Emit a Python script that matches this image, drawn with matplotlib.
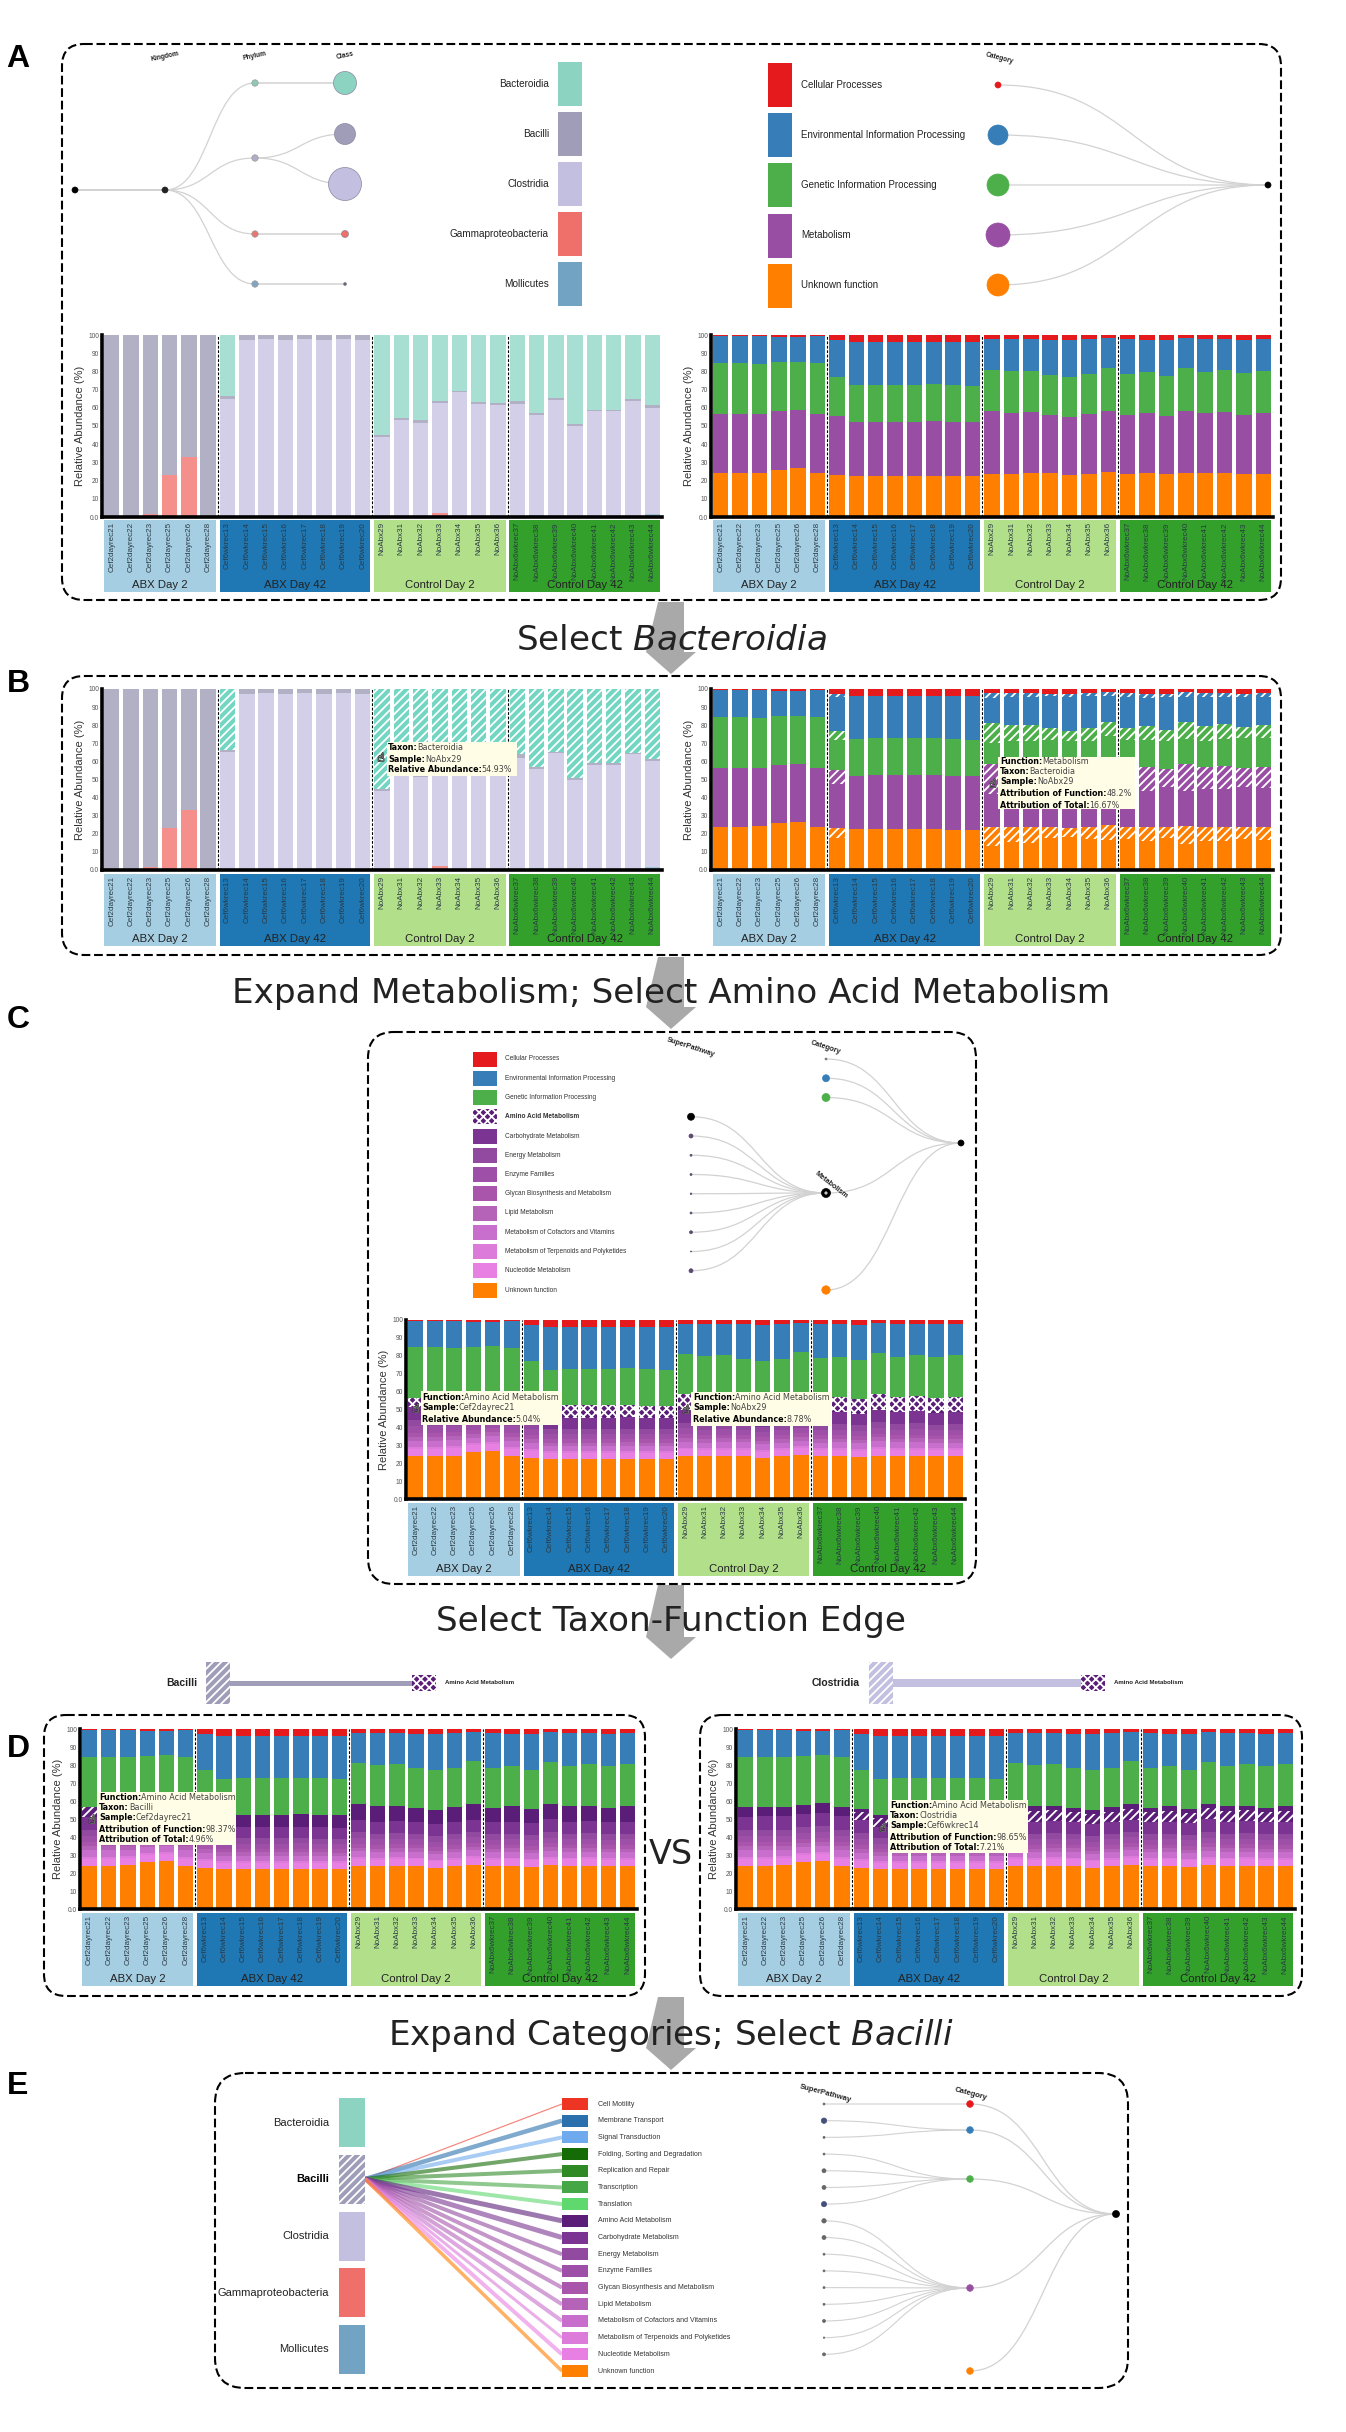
import numpy as np
import matplotlib
matplotlib.use('Agg')
import matplotlib.pyplot as plt
import matplotlib.patheffects as pe
from matplotlib.patches import FancyBboxPatch, PathPatch, Rectangle, Ellipse
from matplotlib.path import Path

plt.rcParams['font.family'] = ['Liberation Sans', 'DejaVu Sans']
plt.rcParams['hatch.linewidth'] = 1.3
plt.rcParams['mathtext.fontset'] = 'dejavusans'

W, H = 1346, 2432
STRIPES = '////'
CHECKS = 'xxxx'

# ---- samples
samples = ['Cef2dayrec21', 'Cef2dayrec22', 'Cef2dayrec23', 'Cef2dayrec25', 'Cef2dayrec26', 'Cef2dayrec28',
           'Cef6wkrec13', 'Cef6wkrec14', 'Cef6wkrec15', 'Cef6wkrec16', 'Cef6wkrec17', 'Cef6wkrec18', 'Cef6wkrec19', 'Cef6wkrec20',
           'NoAbx29', 'NoAbx31', 'NoAbx32', 'NoAbx33', 'NoAbx34', 'NoAbx35', 'NoAbx36',
           'NoAbx6wkrec37', 'NoAbx6wkrec38', 'NoAbx6wkrec39', 'NoAbx6wkrec40', 'NoAbx6wkrec41', 'NoAbx6wkrec42', 'NoAbx6wkrec43', 'NoAbx6wkrec44']
groups = ['ABX Day 2', 'ABX Day 42', 'Control Day 2', 'Control Day 42']
group_sizes = [6, 8, 7, 8]
group_colors = ['#a6cee3', '#1f78b4', '#b2df8a', '#33a02c']

# ---- taxa (% per sample)
mollicutes = [0] * 14 + [0, 0, 0, 0, 0, .7, .5, .8, 1.2, .5, 0, 0, 0, 0, 1.8]
gamma = [0, .2, 1.5, 23, 33, .2] + [0] * 8 + [0, 0, .4, 2, 0, 0, 0] + [0] * 8
clostridia = [0] * 6 + [65, 97, 98, 97, 98, 97.3, 98, 97,
                        43.8, 53.5, 51.1, 60.7, 68.7, 61.3, 61.2,
                        61.2, 54.8, 64, 50, 58.2, 58, 64, 58.2]
bacilli = [100, 99.8, 98.5, 77, 67, 99.8, 1.5, 3, 2, 3, 2, 2.7, 2, 3,
           1.2, .7, 1.8, 1.1, .8, 1, .8, 2, 1, .7, 1, .8, 1, .7, 1.5]
bacteroidia = [0] * 6 + [33.5] + [0] * 7 + [54.93, 45.8, 46.7, 36.2, 30.5, 37, 37.5,
                                            36, 43, 34.8, 49, 41, 41, 35.3, 38.5]

# ---- functions: top of every stacked category (% per sample)
unknown_top = [24, 24, 24.3, 26, 26.7, 24, 23, 22.4, 22.4, 22.4, 22.4, 22.4, 22.3, 22.3,
               23.9, 23.8, 24, 24, 23, 23.8, 24.7, 23.8, 24, 23.5, 24.3, 24, 24, 23.8, 23.8]
metabolism_top = [56.4, 56.4, 56.5, 58, 58.7, 56.4, 55.5, 52.2, 52.4, 52.4, 52.4, 52.6, 52, 52,
                  58.5, 57, 57.5, 56.3, 55, 56.4, 58.2, 56.3, 57, 55.6, 58.5, 57, 57.5, 56.3, 57]
genetic_top = [84.7, 84.7, 84.2, 85, 85.3, 84.6, 77, 72.3, 72.8, 72.8, 72.8, 73, 72.6, 72,
               81, 80, 80.3, 78.2, 77, 78.3, 82, 78.5, 79.6, 77.5, 81.8, 79.5, 80.5, 79.2, 80.3]
environ_top = [99.5, 99.7, 99.5, 99, 98.8, 99.7, 97, 96, 96.2, 96.2, 96.2, 96.2, 96.2, 96,
               98, 97.7, 97.7, 97.5, 97.3, 97.7, 98.2, 97.6, 97.5, 97.3, 98.2, 97.8, 97.8, 97.5, 97.8]

# ---- share attributed to Bacteroidia (panel B)
bact_unknown = [0] * 6 + [5.5] + [0] * 7 + [10.5, 8.6, 9.3, 6.5, 5, 6.8, 8.2, 6.8, 8.2, 6, 9.8, 7.8, 8.2, 6.8, 7.3]
bact_metab = [0] * 6 + [8] + [0] * 7 + [16.7, 13, 14, 10, 8.5, 11, 12.5, 11, 13.5, 9.5, 15, 12.5, 12.5, 10.5, 11.5]
bact_genetic = [0] * 6 + [5] + [0] * 7 + [10.7, 8.5, 9, 6.5, 5.5, 7, 8.2, 6.5, 8, 6, 9.5, 8, 8, 6.5, 7.3]
bact_environ = [0] * 6 + [1.3] + [0] * 7 + [3, 2.3, 2, 1.6, 1.5, 1.8, 2, 2.2, 2.2, 1.6, 2.5, 2, 2, 1.8, 2]

# ---- amino acid metabolism (panels C, D)
amino = [5.04, 5, 5, 5.3, 5.4, 5, 6, 6.7, 7, 7, 7, 7, 6.7, 6.8,
         8.78, 8.5, 8.7, 8, 8, 8, 8.5, 8, 8.5, 8, 8.7, 8.5, 8.5, 8.2, 8.5]
metab_names = ['Carbohydrate Metabolism', 'Energy Metabolism', 'Enzyme Families', 'Glycan Biosynthesis and Metabolism',
               'Lipid Metabolism', 'Metabolism of Cofactors and Vitamins', 'Metabolism of Terpenoids and Polyketides',
               'Nucleotide Metabolism']
metab_share = [6.5, 3, 3, 2, 2, 3, 1, 3.5]
metab_colors = ['#7b3492', '#914a9f', '#9e50a8', '#a955ac', '#b563b9', '#c86fce', '#dd7bdb', '#e880e4']
amino_color = '#5b1e78'

taxa_names = ['Bacteroidia', 'Bacilli', 'Clostridia', 'Gammaproteobacteria', 'Mollicutes']
taxa_colors = ['#8dd3c1', '#9f9db8', '#c3bfe0', '#ef706a', '#73a3c3']
cat_names = ['Cellular Processes', 'Environmental Information Processing', 'Genetic Information Processing',
             'Metabolism', 'Unknown function']
cat_colors = ['#e41a1c', '#377eb8', '#4daf4a', '#984ea3', '#ff7f00']

# ---- panel E
pathways = ['Cell Motility', 'Membrane Transport', 'Signal Transduction', 'Folding, Sorting and Degradation',
            'Replication and Repair', 'Transcription', 'Translation', 'Amino Acid Metabolism'] + metab_names + ['Unknown function']
pathway_colors = ['#ee3524', '#2a70ad', '#6faaee', '#156b06', '#2f8a26', '#44a644', '#5fd86e', amino_color] + metab_colors + ['#ff7f00']
pathway_link = [1.2, 4.5, 4, 4, 4, 4, 4, 5, 5, 4, 4, 4, 4, 4, 3, 4, 3.5]
pathway_parent = [0, 1, 1, 2, 2, 2, 2, 3, 3, 3, 3, 3, 3, 3, 3, 3]
pathway_size = [1, 2.7, 1, 1, 2, 2, 2.6, 2.2, 2, 1, 1, 1, 1, 1.5, .7, 1.5]


fig = plt.figure(figsize=(W / 100, H / 100), dpi=100)
ov = fig.add_axes([0, 0, 1, 1], zorder=10)
ov.set_xlim(0, W)
ov.set_ylim(H, 0)
ov.axis('off')
ov.patch.set_alpha(0)
rend = fig.canvas.get_renderer()


def px_axes(x0, y0, x1, y1, **kw):
    return fig.add_axes([x0 / W, 1 - y1 / H, (x1 - x0) / W, (y1 - y0) / H], **kw)


def chart(x0, x1, top, base, strip0, strip1, layers, overlays=()):
    '''layers: (heights, color) bottom up; overlays: (bottoms, heights, color, hatch)'''
    n = len(samples)
    xs = np.arange(n)
    ax = px_axes(x0, top, x1, base, zorder=1)
    bottom = np.zeros(n)
    for vals, col in layers:
        vals = np.asarray(vals, dtype=float)
        ax.bar(xs, vals, 0.8, bottom=bottom, color=col, linewidth=0)
        bottom += vals
    for bot, h, col, hatch in overlays:
        ax.bar(xs, h, 0.8, bottom=bot, color=col, hatch=hatch, edgecolor='white', linewidth=0)
    ax.set_xlim(-.5, n - .5)
    ax.set_ylim(0, 100)
    edges = np.cumsum(group_sizes)[:-1] - .5
    for e in edges:
        ax.axvline(e, color='white', lw=2)
        ax.axvline(e, color='black', lw=.8, ls=(0, (2.5, 1.5)))
    for s in ['top', 'right']:
        ax.spines[s].set_visible(False)
    ax.spines['left'].set_linewidth(2.6)
    ax.spines['bottom'].set_linewidth(2.6)
    ax.set_xticks([])
    ax.set_yticks(range(0, 101, 10))
    ax.set_yticklabels(['0.0'] + [str(v) for v in range(10, 101, 10)], fontsize=4.8, color='#555555')
    ax.tick_params(axis='y', length=0, pad=2)
    ax.set_ylabel('Relative Abundance (%)', fontsize=8, color='#333333', labelpad=2.5)

    sx = px_axes(x0, strip0, x1, strip1, zorder=1)
    sx.set_xlim(-.5, n - .5)
    sx.set_ylim(strip1 - strip0, 0)
    sx.axis('off')
    start = 0
    for g, size, col in zip(groups, group_sizes, group_colors):
        sx.axvspan(start - .4, start + size - 1 + .4, color=col, lw=0)
        sx.text(start + (size - 1) / 2, strip1 - strip0 - 6.5, g, ha='center', va='center', fontsize=8.2, color='#222222')
        start += size
    for i, name in enumerate(samples):
        sx.text(i, 2, name, rotation=90, ha='center', va='top', fontsize=5.8, color='#2a3a44')


def border(x0, y0, x1, y1, r=22):
    ov.add_patch(FancyBboxPatch((x0, y0), x1 - x0, y1 - y0, boxstyle='round,pad=0,rounding_size=%d' % r,
                                fc='none', ec='black', lw=1.5, ls=(0, (4.2, 1.8)), zorder=3))


def curve(x0, y0, x1, y1, lw=.9):
    mid = (x0 + x1) / 2
    p = Path([(x0, y0), (mid, y0), (mid, y1), (x1, y1)], [Path.MOVETO, Path.CURVE4, Path.CURVE4, Path.CURVE4])
    ov.add_patch(PathPatch(p, fc='none', ec='#d2d2d2', lw=lw, zorder=2))


def node(x, y, r, col, ec=None):
    ov.add_patch(Ellipse((x, y), 2 * r, 2 * r, fc=col, ec=ec or col, lw=.5, zorder=4))


def swatch(x0, y0, x1, y1, col, hatch=None):
    ov.add_patch(Rectangle((x0, y0), x1 - x0, y1 - y0, fc=col, ec='white' if hatch else col, lw=0, hatch=hatch, zorder=4))


def tooltip(x0, y0, x1, y1, tx, lines, cursor):
    ov.add_patch(Rectangle((x0, y0), x1 - x0, y1 - y0, fc='#fffde6', ec='none', zorder=6))
    for ly, key, val in lines:
        t = ov.text(tx, ly, key + ':', fontsize=5.75, fontweight='bold', family='DejaVu Sans', va='center', zorder=7, color='black')
        end = t.get_window_extent(rend).x1
        ov.text(end, ly, val, fontsize=5.75, family='DejaVu Sans', va='center', zorder=7, color='#444444')
    ov.text(cursor[0], cursor[1], '\u261d', fontsize=8.5, family='DejaVu Sans', color='white', ha='center', va='center', zorder=8,
            path_effects=[pe.withStroke(linewidth=.8, foreground='#333333')])


def arrow(y0, y1, cx=671):
    head = y1 - 22
    ov.fill([cx - 13, cx + 13, cx + 13, cx + 25, cx, cx - 25, cx - 13], [y0, y0, head, head, y1, head, y0],
            color='#a9a9a9', lw=0, zorder=1)


def header(x, y, s, rot, size=4.8):
    ov.text(x, y, s, fontsize=size, fontweight='bold', rotation=rot, ha='center', va='center', rotation_mode='anchor', color='#222222', zorder=5)


def caption(y, s):
    ov.text(671, y, s, fontsize=24.7, family='DejaVu Sans', ha='center', va='center', color='#222222', zorder=5)


taxa_layers = [(mollicutes, '#9fc1d6'), (gamma, '#f48f8c'), (clostridia, '#d3cfe8'), (bacilli, '#b1b0c4'), (bacteroidia, '#a8dfd3')]
u, m, g, e = [np.array(v, dtype=float) for v in (unknown_top, metabolism_top, genetic_top, environ_top)]
func_layers = [(u, cat_colors[4]), (m - u, cat_colors[3]), (g - m, cat_colors[2]), (e - g, cat_colors[1]), (100 - e, cat_colors[0])]

# amino + remaining superpathways, from the orange up to the green
am = np.array(amino)
rest = m - am - u
shares = np.array(metab_share) / sum(metab_share)
sub_layers = [(rest * s, c) for s, c in zip(shares[::-1], metab_colors[::-1])]
sub_bottom = m - am
sup_top = [(u, cat_colors[4])] + sub_layers + [(am, amino_color), (g - m, cat_colors[2]), (e - g, cat_colors[1]), (100 - e, cat_colors[0])]

LX0, LX1, RX0, RX1 = 102, 662, 711, 1273

# ---- A
border(62, 44, 1281, 600)
chart(LX0, LX1, 335, 517, 520, 592, taxa_layers)
chart(RX0, RX1, 335, 517, 520, 592, func_layers)

# taxonomy tree
curve(75, 190, 165, 190, 1.4)
phylum_y = [83, 158, 234, 284]
for y in phylum_y:
    curve(165, 190, 255, y)
for y0, y1 in [(83, 83), (158, 134), (158, 184), (234, 234), (284, 284)]:
    curve(255, y0, 345, y1, 1.1 if y0 == y1 else .9)
node(75, 190, 3, 'black')
node(165, 190, 3, '#222222')
for y, c in zip(phylum_y, ['#8dc9b6', '#b0adc8', '#e57770', '#7fa5c2']):
    node(255, y, 3.2, c, '#999999')
class_y = [83, 134, 184, 234, 284]
class_r = [11.5, 10.5, 16.5, 3.5, 1.5]
class_c = taxa_colors[:4] + ['#666666']
for y, r, c in zip(class_y, class_r, class_c):
    node(345, y, r, c, '#8888a0')
header(165, 57, 'Kingdom', 12)
header(255, 56, 'Phylum', 12)
header(345, 56, 'Class', 12)
for i, (nm, col) in enumerate(zip(taxa_names, taxa_colors)):
    swatch(558, 62 + 50 * i, 582, 106 + 50 * i, col)
    ov.text(549, 84 + 50 * i, nm, fontsize=7.2, ha='right', va='center', color='#222222')

# category tree
cat_y = [85, 135, 185, 235, 285]
cat_r = [3, 10, 11, 12, 11]
for i, (nm, col) in enumerate(zip(cat_names, cat_colors)):
    swatch(768, 63 + 50.2 * i, 792, 107 + 50.2 * i, col)
    ov.text(801, cat_y[i], nm, fontsize=7, va='center', color='#222222')
    curve(998, cat_y[i], 1268, 185)
    node(998, cat_y[i], cat_r[i], col)
node(1268, 185, 3, 'black')
header(999, 58, 'Category', -15)

caption(641, 'Select $\\mathit{Bacteroidia}$')
arrow(602, 674)

# ---- B
border(62, 676, 1281, 955)
top_b = np.array(mollicutes) + np.array(gamma) + np.array(clostridia) + np.array(bacilli)
chart(LX0, LX1, 689, 870, 874, 946, taxa_layers, [(top_b, bacteroidia, '#72d6c2', STRIPES)])
overlays_b = [(u - np.array(bact_unknown), bact_unknown, cat_colors[4], STRIPES),
              (m - np.array(bact_metab), bact_metab, cat_colors[3], STRIPES),
              (g - np.array(bact_genetic), bact_genetic, cat_colors[2], STRIPES),
              (e - np.array(bact_environ), bact_environ, cat_colors[1], STRIPES)]
chart(RX0, RX1, 689, 870, 874, 946, func_layers, overlays_b)
tooltip(387, 742, 517, 776, 388, [(747, 'Taxon', 'Bacteroidia'), (759, 'Sample', 'NoAbx29'), (770, 'Relative Abundance', '54.93%')], (381, 758))
tooltip(998, 757, 1135, 809, 1000, [(762, 'Function', 'Metabolism'), (772, 'Taxon', 'Bacteroidia'), (782, 'Sample', 'NoAbx29'),
                                    (794, 'Attribution of Function', '48.2%'), (805, 'Attribution of Total', '16.67%')], (993, 784))

caption(994, 'Expand Metabolism; Select Amino Acid Metabolism')
arrow(957, 1029)

# ---- C
border(368, 1032, 976, 1584, 26)
chart(406, 965, 1320, 1499, 1503, 1576, sup_top, [(sub_bottom, am, amino_color, CHECKS)])
rows_c = [1059 + 19.25 * i for i in range(13)]
names_c = cat_names[:3] + ['Amino Acid Metabolism'] + metab_names + ['Unknown function']
cols_c = cat_colors[:3] + [amino_color] + metab_colors + [cat_colors[4]]
for i, (y, nm, col) in enumerate(zip(rows_c, names_c, cols_c)):
    swatch(473, y - 7.5, 497, y + 7.5, col, CHECKS if i == 3 else None)
    ov.text(505, y, nm, fontsize=4.7, va='center', color='#333333', fontweight='bold' if i == 3 else 'normal')
sizes_c = [3.5, 2, 1, 1, .8, 1, 1.5, .5, 2]
for y, r in zip(rows_c[3:12], sizes_c):
    curve(691, y, 826, 1193)
    node(691, y, r, 'black' if r == 3.5 else '#5a4a70')
for y in rows_c[:3] + [1193, rows_c[12]]:
    curve(826, y, 961, 1143)
for y, r, c in zip(rows_c[:3], [1, 3.5, 4], ['#777777', cat_colors[1], cat_colors[2]]):
    node(826, y, r, c)
node(826, 1193, 4.5, 'black')
node(826, 1193, 1.2, '#cccccc')
node(826, rows_c[12], 4.2, cat_colors[4])
node(961, 1143, 3, 'black')
header(691, 1047, 'SuperPathway', -18, 5.2)
header(826, 1047, 'Category', -18, 5.2)
header(831, 1185, 'Metabolism', -38, 5.2)
tooltip(421, 1391, 562, 1425, 422, [(1397, 'Function', 'Amino Acid Metabolism'), (1408, 'Sample', 'Cef2dayrec21'), (1419, 'Relative Abundance', '5.04%')], (416, 1409))
tooltip(691, 1392, 831, 1426, 693, [(1397, 'Function', 'Amino Acid Metabolism'), (1408, 'Sample', 'NoAbx29'), (1420, 'Relative Abundance', '8.78%')], (686, 1410))

caption(1621, 'Select Taxon-Function Edge')
arrow(1585, 1659)

# ---- D
border(44, 1715, 645, 1996)
border(700, 1715, 1302, 1996)
hatch_l = np.array([1] * 6 + [0] * 23) * am
chart(80, 637, 1729, 1909, 1913, 1986, sup_top, [(sub_bottom, hatch_l, amino_color, STRIPES)])
hatch_r = np.array([0] * 6 + [1] * 23) * am * .72
chart(736, 1295, 1729, 1909, 1913, 1986, sup_top, [(sub_bottom, hatch_r, amino_color, STRIPES)])
ov.text(197, 1683, 'Bacilli', fontsize=7.5, fontweight='bold', ha='right', va='center', color='#222222')
swatch(206, 1662, 230, 1704, taxa_colors[1], STRIPES)
swatch(230, 1681, 412, 1686, taxa_colors[1])
swatch(412, 1675, 436, 1691, amino_color, CHECKS)
ov.text(445, 1683, 'Amino Acid Metabolism', fontsize=4.4, fontweight='bold', va='center', color='#222222')
ov.text(860, 1683, 'Clostridia', fontsize=7.5, fontweight='bold', ha='right', va='center', color='#222222')
swatch(869, 1662, 893, 1704, taxa_colors[2], STRIPES)
swatch(893, 1679, 1081, 1687, taxa_colors[2])
swatch(1081, 1675, 1105, 1691, amino_color, CHECKS)
ov.text(1114, 1683, 'Amino Acid Metabolism', fontsize=4.4, fontweight='bold', va='center', color='#222222')
ov.text(671, 1855, 'VS', fontsize=24, family='DejaVu Sans', ha='center', va='center', color='#222222', zorder=5)
tooltip(97, 1792, 236, 1845, 99, [(1797, 'Function', 'Amino Acid Metabolism'), (1807, 'Taxon', 'Bacilli'), (1818, 'Sample', 'Cef2dayrec21'),
                                  (1829, 'Attribution of Function', '98.37%'), (1840, 'Attribution of Total', '4.96%')], (92, 1820))
tooltip(889, 1800, 1028, 1853, 890, [(1805, 'Function', 'Amino Acid Metabolism'), (1815, 'Taxon', 'Clostridia'), (1826, 'Sample', 'Cef6wkrec14'),
                                     (1838, 'Attribution of Function', '98.65%'), (1848, 'Attribution of Total', '7.21%')], (883, 1828))

caption(2035, 'Expand Categories; Select $\\mathit{Bacilli}$')
arrow(1997, 2070)

# ---- E
border(215, 2073, 1128, 2388, 30)
rows_e = [2104 + 16.69 * i for i in range(17)]
for i, (nm, col) in enumerate(zip(taxa_names, taxa_colors)):
    y0 = 2098 + 56.75 * i
    swatch(339, y0, 365, y0 + 49, col, STRIPES if i == 1 else None)
    ov.text(329, y0 + 24.5, nm, fontsize=8, ha='right', va='center', color='black' if i == 1 else '#222222', fontweight='bold' if i == 1 else 'normal')
for y, nm, col, lw in zip(rows_e, pathways, pathway_colors, pathway_link):
    ov.plot([365, 562], [2179, y], color=col, lw=lw / 1.39, alpha=.6, solid_capstyle='butt', zorder=3)
    swatch(562, y - 6, 588, y + 6, col)
    ov.text(598, y, nm, fontsize=5, va='center', color='#333333')
cat_y_e = [2104, 2130, 2179, 2288, 2371]
for y, r, p in zip(rows_e[:16], pathway_size, pathway_parent):
    curve(824, y, 970, cat_y_e[p], .8)
    node(824, y, r, '#44507a' if r > 2.5 else '#666666')
for y, c in zip(cat_y_e, cat_colors):
    curve(970, y, 1116, 2214)
    node(970, y, 3.3, c)
node(1116, 2214, 3.5, 'black')
header(825, 2094, 'SuperPathway', -15, 5.6)
header(971, 2094, 'Category', -15, 5.6)

# panel letters
for s, y in zip('ABCDE', [59, 684, 1020, 1749, 2086]):
    ov.text(18, y, s, fontsize=23, fontweight='bold', ha='center', va='center', color='black', zorder=9)

fig.savefig('out.png', dpi=100, facecolor='white')
